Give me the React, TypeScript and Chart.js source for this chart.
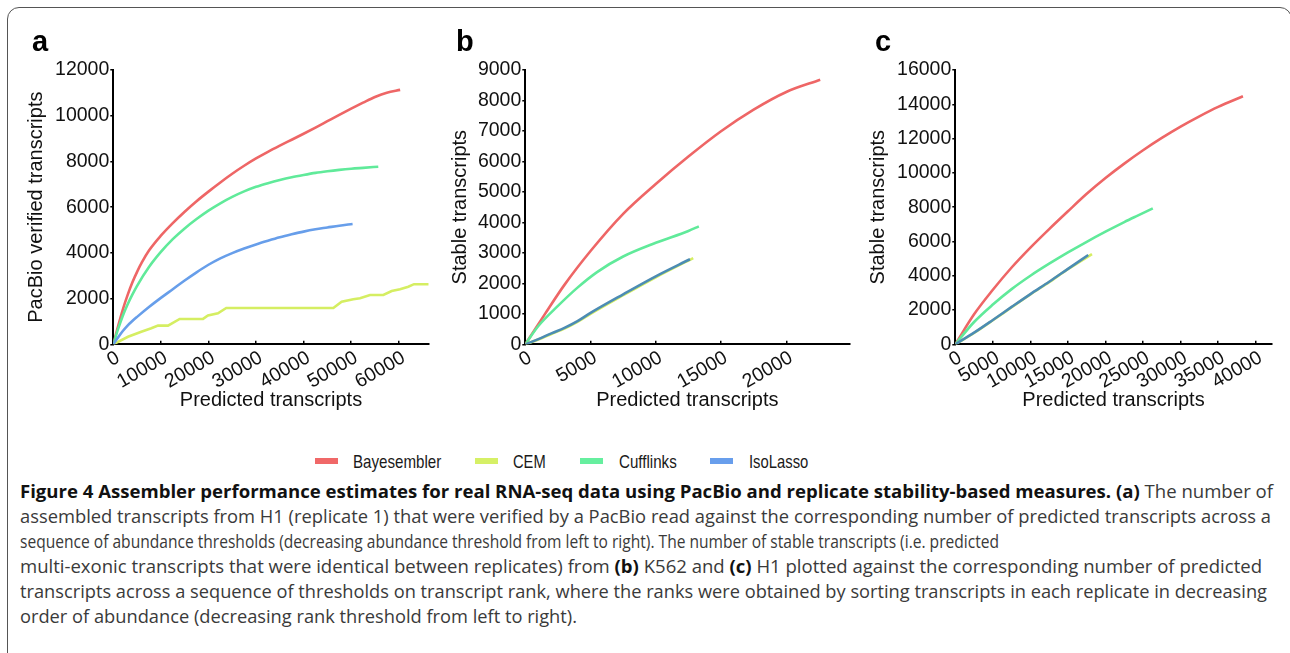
import React, { useEffect, useLayoutEffect, useRef } from 'react';
import { Chart, registerables } from 'chart.js';
Chart.register(...registerables);

const AXIS_FONT = "'Liberation Sans', Arial, Helvetica, sans-serif";
const CAPTION_FONT = "'Open Sans', 'Noto Sans', sans-serif";

// ---------- series names / legend ----------
const SERIES_NAMES = ['Bayesembler', 'CEM', 'Cufflinks', 'IsoLasso'];

// ---------- panel a : PacBio verified vs predicted (H1) ----------
const aBayesX = [0, 1000, 2000, 3000, 4000, 5000, 6000, 7500, 10000, 12500, 15000, 17500, 20000, 22500, 25000, 27500, 30000, 32500, 35000, 37500, 40000, 42500, 45000, 47500, 50000, 52500, 55000, 57500, 60300];
const aBayesY = [0, 790, 1520, 2150, 2700, 3170, 3580, 4100, 4750, 5300, 5800, 6260, 6680, 7080, 7460, 7810, 8130, 8420, 8690, 8950, 9210, 9480, 9760, 10040, 10310, 10570, 10820, 11010, 11130];
const aCemX = [0, 3090, 5890, 7990, 9400, 11500, 13960, 18860, 19900, 22000, 23750, 46250, 48000, 50450, 51860, 53960, 56760, 58520, 60270, 62010, 63210, 66300];
const aCemY = [0, 330, 550, 700, 816, 816, 1110, 1110, 1260, 1356, 1590, 1590, 1864, 1968, 2012, 2157, 2157, 2332, 2406, 2521, 2630, 2630];
const aCuffX = [0, 1000, 2000, 3000, 4000, 5000, 7500, 10000, 12500, 15000, 17500, 20000, 22500, 25000, 27500, 30000, 32500, 35000, 37500, 40000, 42500, 45000, 47500, 50000, 52500, 55700];
const aCuffY = [0, 660, 1250, 1740, 2170, 2560, 3380, 4040, 4600, 5070, 5480, 5850, 6170, 6450, 6690, 6890, 7050, 7190, 7310, 7410, 7500, 7570, 7630, 7680, 7720, 7770];
const aIsoX = [0, 1000, 2000, 3000, 4000, 5000, 7500, 10000, 12500, 15000, 17500, 20000, 22500, 25000, 27500, 30000, 32500, 35000, 37500, 40000, 42500, 45000, 47500, 50300];
const aIsoY = [0, 300, 580, 820, 1020, 1200, 1630, 2030, 2410, 2790, 3150, 3480, 3760, 3990, 4190, 4370, 4530, 4680, 4810, 4930, 5030, 5110, 5190, 5262];

// ---------- panel b : stable transcripts (K562) ----------
const bBayesX = [0, 1500, 3000, 5000, 7500, 10000, 12500, 15000, 17500, 20000, 22600];
const bBayesY = [0, 990, 1950, 3060, 4280, 5260, 6160, 6990, 7700, 8280, 8680];
const bCemX = [0, 1000, 2000, 3000, 4000, 5000, 7500, 10000, 12870];
const bCemY = [0, 155, 340, 515, 735, 1000, 1610, 2200, 2830];
const bCuffX = [0, 1000, 2500, 4000, 5500, 7500, 10000, 12500, 13300];
const bCuffY = [0, 600, 1260, 1860, 2370, 2880, 3330, 3720, 3870];
const bIsoX = [0, 1000, 2000, 3000, 4000, 5000, 7500, 10000, 12620];
const bIsoY = [0, 170, 360, 540, 760, 1030, 1640, 2230, 2790];

// ---------- panel c : stable transcripts (H1) ----------
const cBayesX = [0, 2500, 5000, 7500, 10000, 12500, 15000, 17500, 20000, 22500, 25000, 27500, 30000, 32500, 35000, 38300];
const cBayesY = [0, 1750, 3180, 4480, 5640, 6720, 7760, 8780, 9700, 10540, 11320, 12040, 12700, 13300, 13850, 14470];
const cCemX = [0, 2500, 5000, 7500, 10000, 12500, 15000, 18200];
const cCemY = [0, 660, 1400, 2160, 2910, 3630, 4380, 5265];
const cCuffX = [0, 2500, 5000, 7500, 10000, 12500, 15000, 17500, 20000, 22500, 24000, 26300];
const cCuffY = [0, 1300, 2320, 3220, 4000, 4700, 5360, 5980, 6570, 7130, 7450, 7930];
const cIsoX = [0, 2500, 5000, 7500, 10000, 12500, 15000, 17700];
const cIsoY = [0, 680, 1420, 2180, 2930, 3650, 4400, 5207];

// ---------- axis ranges and tick values ----------
const X_MAX = [66300, 24830, 42130];
const Y_MAX = [12000, 9000, 16000];
const X_TICKS = [
  [0, 10000, 20000, 30000, 40000, 50000, 60000],
  [0, 5000, 10000, 15000, 20000],
  [0, 5000, 10000, 15000, 20000, 25000, 30000, 35000, 40000],
];
const Y_TICKS = [
  [0, 2000, 4000, 6000, 8000, 10000, 12000],
  [0, 1000, 2000, 3000, 4000, 5000, 6000, 7000, 8000, 9000],
  [0, 2000, 4000, 6000, 8000, 10000, 12000, 14000, 16000],
];
const Y_TITLES = ['PacBio verified transcripts', 'Stable transcripts', 'Stable transcripts'];
const X_TITLE = 'Predicted transcripts';
const PANEL_LETTERS = ['a', 'b', 'c'];

// ---------- styles ----------
const LINE_COLORS = { bayes: '#ee6666', cem: '#d5ee62', cuff: '#60ea9a', iso: '#679eea', isoDark: '#4c8cb4' };
const LEGEND_COLORS = ['#f06868', '#d6f066', '#66ef9f', '#689eec'];

const CANVAS_W = 1290;
const CANVAS_H = 440;
const AREA_TOP = 70;
const AREA_BOTTOM = 344.3;
const AREA_LEFT = [113.3, 525.3, 955.3];
const AREA_RIGHT = [428.7, 849.3, 1271.7];
const Y_TITLE_CENTER = [36.7, 460, 878.3];
const X_TITLE_CENTER_Y = 400.6;
const TITLE_SIZE = 20;
const TICK_SIZE = 19.5;

type S = { label: string; xs: number[]; ys: number[]; color: string; order: number; smooth: boolean };

const PANEL_SERIES: S[][] = [
  [
    { label: SERIES_NAMES[0], xs: aBayesX, ys: aBayesY, color: LINE_COLORS.bayes, order: 4, smooth: true },
    { label: SERIES_NAMES[1], xs: aCemX, ys: aCemY, color: LINE_COLORS.cem, order: 3, smooth: false },
    { label: SERIES_NAMES[2], xs: aCuffX, ys: aCuffY, color: LINE_COLORS.cuff, order: 2, smooth: true },
    { label: SERIES_NAMES[3], xs: aIsoX, ys: aIsoY, color: LINE_COLORS.iso, order: 1, smooth: true },
  ],
  [
    { label: SERIES_NAMES[0], xs: bBayesX, ys: bBayesY, color: LINE_COLORS.bayes, order: 4, smooth: true },
    { label: SERIES_NAMES[1], xs: bCemX, ys: bCemY, color: LINE_COLORS.cem, order: 2, smooth: true },
    { label: SERIES_NAMES[2], xs: bCuffX, ys: bCuffY, color: LINE_COLORS.cuff, order: 3, smooth: true },
    { label: SERIES_NAMES[3], xs: bIsoX, ys: bIsoY, color: LINE_COLORS.isoDark, order: 1, smooth: true },
  ],
  [
    { label: SERIES_NAMES[0], xs: cBayesX, ys: cBayesY, color: LINE_COLORS.bayes, order: 4, smooth: true },
    { label: SERIES_NAMES[1], xs: cCemX, ys: cCemY, color: LINE_COLORS.cem, order: 2, smooth: true },
    { label: SERIES_NAMES[2], xs: cCuffX, ys: cCuffY, color: LINE_COLORS.cuff, order: 3, smooth: true },
    { label: SERIES_NAMES[3], xs: cIsoX, ys: cIsoY, color: LINE_COLORS.isoDark, order: 1, smooth: true },
  ],
];

function buildConfig(i: number): any {
  const lh = TITLE_SIZE * 1.2;
  const padLeft = Y_TITLE_CENTER[i] - lh / 2;
  const yWidth = AREA_LEFT[i] - padLeft;
  const xBottom = X_TITLE_CENTER_Y + lh / 2;
  const xHeight = xBottom - AREA_BOTTOM;
  const padBottom = CANVAS_H - xBottom;
  const fmt = (v: any) => String(v);
  return {
    type: 'line',
    data: {
      datasets: PANEL_SERIES[i].map((s) => ({
        label: s.label,
        data: s.xs.map((x, k) => ({ x, y: s.ys[k] })),
        borderColor: s.color,
        backgroundColor: s.color,
        borderWidth: 2.6,
        pointRadius: 0,
        fill: false,
        tension: 0,
        cubicInterpolationMode: s.smooth ? 'monotone' : 'default',
        order: s.order,
      })),
    },
    options: {
      animation: false,
      responsive: false,
      maintainAspectRatio: false,
      events: [],
      layout: { padding: { left: padLeft, right: CANVAS_W - AREA_RIGHT[i], top: AREA_TOP, bottom: padBottom } },
      plugins: { legend: { display: false }, tooltip: { enabled: false } },
      scales: {
        x: {
          type: 'linear',
          min: 0,
          max: X_MAX[i],
          afterBuildTicks: (sc: any) => { sc.ticks = X_TICKS[i].map((v) => ({ value: v })); },
          afterFit: (sc: any) => { sc.height = xHeight; },
          border: { display: true, color: '#000', width: 2 },
          // x-axis tick marks point up into the plot (negative length), labels kept below
          grid: { display: true, drawOnChartArea: false, drawTicks: true, tickLength: -3.5, color: '#000', lineWidth: 1.5 },
          ticks: {
            autoSkip: false, maxRotation: 30, minRotation: 30,
            labelOffset: 5, padding: 5.5, color: '#111', font: { family: AXIS_FONT, size: TICK_SIZE }, callback: fmt,
          },
          title: { display: true, text: X_TITLE, color: '#111', font: { family: AXIS_FONT, size: TITLE_SIZE }, padding: 0 },
        },
        y: {
          type: 'linear',
          min: 0,
          max: Y_MAX[i],
          afterBuildTicks: (sc: any) => { sc.ticks = Y_TICKS[i].map((v) => ({ value: v })); },
          afterFit: (sc: any) => { sc.width = yWidth; },
          border: { display: true, color: '#000', width: 2 },
          grid: { display: true, drawOnChartArea: false, drawTicks: true, tickLength: 3, color: '#000', lineWidth: 1.5 },
          ticks: {
            autoSkip: false, padding: 1, color: '#111',
            font: { family: AXIS_FONT, size: TICK_SIZE }, callback: fmt,
          },
          title: { display: true, text: Y_TITLES[i], color: '#111', font: { family: AXIS_FONT, size: TITLE_SIZE }, padding: 0 },
        },
      },
    },
  };
}

// ---------- text helper: fit a line of text to a target width ----------
function FitText(props: {
  x: number; baseline: number; width: number; size: number; family: string; ascent: number;
  color: string; weight?: number; children: React.ReactNode;
}) {
  const ref = useRef<HTMLDivElement>(null);
  const fit = () => {
    const el = ref.current;
    if (!el) return;
    el.style.transform = 'none';
    const w = el.getBoundingClientRect().width;
    if (w > 0) el.style.transform = `scaleX(${props.width / w})`;
  };
  useLayoutEffect(() => {
    fit();
    const f: any = (document as any).fonts;
    if (f && f.ready) f.ready.then(fit);
  });
  return (
    <div
      ref={ref}
      style={{
        position: 'absolute', left: props.x, top: props.baseline - props.ascent * props.size,
        fontFamily: props.family, fontSize: props.size, lineHeight: `${props.size}px`, whiteSpace: 'nowrap',
        color: props.color, fontWeight: props.weight ?? 400, transformOrigin: '0 0', display: 'inline-block',
      }}
    >
      {props.children}
    </div>
  );
}

// ---------- legend ----------
const LEGEND_SWATCH_X = [315, 475, 580, 710];
const LEGEND_TEXT_X = [353, 513, 619, 749];
const LEGEND_TEXT_W = [88.3, 32.7, 57.7, 59.3];

// ---------- caption ----------
const CAPTION_BASELINES = [498, 523, 548, 573, 598, 623];
const CAPTION_WIDTHS = [1253, 1251, 979, 1242, 1247, 557];
const CAPTION_LINES: { b?: boolean; t: string }[][] = [
  [{ b: true, t: 'Figure 4 Assembler performance estimates for real RNA-seq data using PacBio and replicate stability-based measures. (a)' }, { t: ' The number of' }],
  [{ t: 'assembled transcripts from H1 (replicate 1) that were verified by a PacBio read against the corresponding number of predicted transcripts across a' }],
  [{ t: 'sequence of abundance thresholds (decreasing abundance threshold from left to right). The number of stable transcripts (i.e. predicted' }],
  [{ t: 'multi-exonic transcripts that were identical between replicates) from ' }, { b: true, t: '(b)' }, { t: ' K562 and ' }, { b: true, t: '(c)' }, { t: ' H1 plotted against the corresponding number of predicted' }],
  [{ t: 'transcripts across a sequence of thresholds on transcript rank, where the ranks were obtained by sorting transcripts in each replicate in decreasing' }],
  [{ t: 'order of abundance (decreasing rank threshold from left to right).' }],
];

export default function App() {
  const refs = [useRef<HTMLCanvasElement>(null), useRef<HTMLCanvasElement>(null), useRef<HTMLCanvasElement>(null)];
  useEffect(() => {
    const charts = refs.map((r, i) => new Chart(r.current as HTMLCanvasElement, buildConfig(i)));
    return () => charts.forEach((c) => c.destroy());
  }, []);

  return (
    <div style={{ position: 'absolute', left: 0, top: 0, width: 1290, height: 653, overflow: 'hidden', background: '#fff' }}>
      <div style={{ position: 'absolute', left: 7, top: 7, width: 1285, height: 700, border: '1px solid #555', borderRadius: 12, boxSizing: 'border-box' }} />
      {refs.map((r, i) => (
        <canvas key={i} ref={r} width={CANVAS_W} height={CANVAS_H}
          style={{ position: 'absolute', left: 0, top: 0, width: CANVAS_W, height: CANVAS_H }} />
      ))}
      {PANEL_LETTERS.map((l, i) => (
        <div key={l} style={{
          position: 'absolute', left: [32, 456, 875][i], top: 51.7 - 0.8465 * 29, fontFamily: AXIS_FONT,
          fontWeight: 700, fontSize: 29, lineHeight: '29px', color: '#000',
        }}>{l}</div>
      ))}
      {SERIES_NAMES.map((n, i) => (
        <React.Fragment key={n}>
          <div style={{ position: 'absolute', left: LEGEND_SWATCH_X[i], top: 458, width: 23, height: 6, background: LEGEND_COLORS[i] }} />
          <FitText x={LEGEND_TEXT_X[i]} baseline={468.3} width={LEGEND_TEXT_W[i]} size={18.6} family={AXIS_FONT} ascent={0.8465} color="#1a1a1a">{n}</FitText>
        </React.Fragment>
      ))}
      {CAPTION_LINES.map((parts, i) => (
        <FitText key={i} x={20} baseline={CAPTION_BASELINES[i]} width={CAPTION_WIDTHS[i]} size={18} family={CAPTION_FONT} ascent={0.888} color="#3a3a3a">
          {parts.map((p, k) => p.b
            ? <span key={k} style={{ fontWeight: 700, color: '#111' }}>{p.t}</span>
            : <span key={k}>{p.t}</span>)}
        </FitText>
      ))}
    </div>
  );
}
